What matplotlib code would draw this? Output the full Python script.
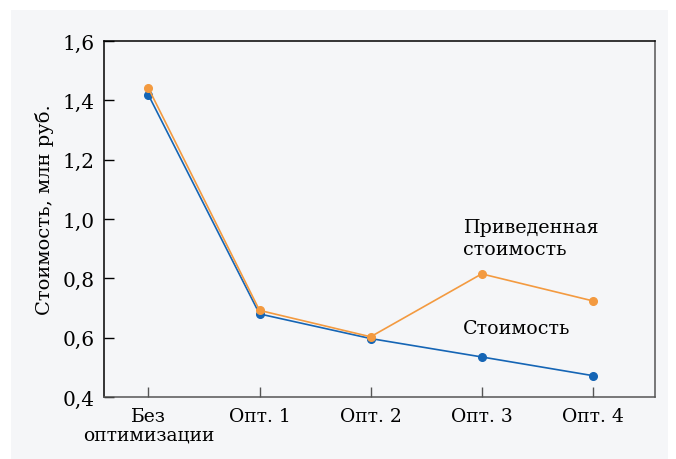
import matplotlib.pyplot as plt
from matplotlib.patches import Rectangle
from matplotlib.ticker import FuncFormatter

categories = ['Без\nоптимизации', 'Опт. 1', 'Опт. 2', 'Опт. 3', 'Опт. 4']
cost = [1.418, 0.68, 0.597, 0.535, 0.472]
cost_reduced = [1.441, 0.692, 0.603, 0.815, 0.724]
yticks = [0.4, 0.6, 0.8, 1.0, 1.2, 1.4, 1.6]

blue = '#1565b5'
orange = '#f39a40'
panel = '#f5f6f8'

plt.rcParams['font.family'] = ['DejaVu Serif']
plt.rcParams['font.size'] = 13.5

fig = plt.figure(figsize=(6.76, 4.6), dpi=100)
fig.patch.set_facecolor('white')
fig.patches.append(Rectangle((11 / 676, -0.01), 657 / 676, 449 / 460 + 0.01,
                             transform=fig.transFigure, facecolor=panel,
                             edgecolor='none', zorder=-10))

ax = fig.add_axes([104 / 676, 62 / 460, 551 / 676, 356 / 460])
ax.set_facecolor(panel)

x = list(range(len(categories)))
ax.plot(x, cost_reduced, color=orange, lw=1.2, marker='o', ms=5.5, zorder=3)
ax.plot(x, cost, color=blue, lw=1.2, marker='o', ms=5.5, zorder=2)

ax.set_xlim(-0.4, 4.56)
ax.set_ylim(0.4, 1.6)
ax.set_yticks(yticks)
ax.yaxis.set_major_formatter(FuncFormatter(lambda v, p: f'{v:.1f}'.replace('.', ',')))
ax.set_xticks(x)
ax.set_xticklabels(categories, linespacing=1.05)

ax.tick_params(axis='y', direction='in', length=7, width=1, colors='black', labelsize=14.5, pad=7)
ax.tick_params(axis='x', direction='in', length=7, width=1, color='#555555', labelcolor='black', labelsize=13.5, pad=7)

ax.spines['left'].set_color('black')
ax.spines['top'].set_color('black')
ax.spines['bottom'].set_color('#555555')
ax.spines['right'].set_color('#555555')
for s in ax.spines.values():
    s.set_linewidth(1.1)

ax.set_ylabel('Стоимость, млн руб.', fontsize=14, labelpad=6)
ax.yaxis.label.set_y(0.53)

ax.text(2.83, 1.005, 'Приведенная\nстоимость', fontsize=13.7, va='top', ha='left', linespacing=1.35)
ax.text(2.83, 0.632, 'Стоимость', fontsize=13.7, va='center', ha='left')

fig.savefig('out.png', dpi=100, facecolor=fig.get_facecolor())
